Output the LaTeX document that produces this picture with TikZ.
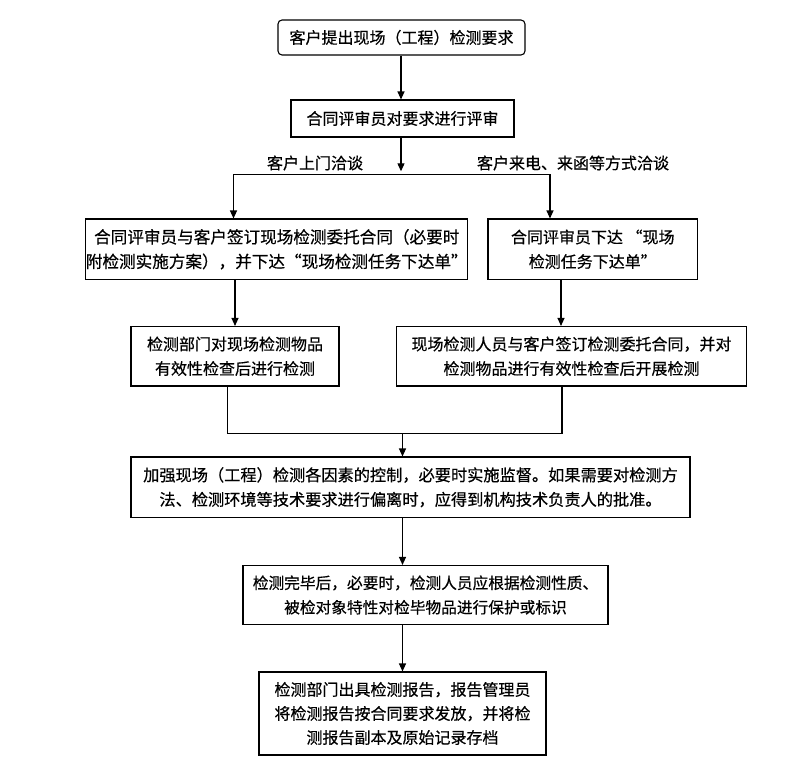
\documentclass[tikz,border=0pt]{standalone}
\usepackage{fontspec}
\setmainfont{Noto Sans CJK SC}[FakeBold=0.5]
\usetikzlibrary{arrows.meta}
\begin{document}
\begin{tikzpicture}[x=1pt,y=-1pt,
  box/.style={draw=black,line width=1.1pt,align=center,inner sep=0pt,
    font=\fontsize{16}{24.5}\selectfont},
  lbl/.style={inner sep=0pt,font=\fontsize{16}{20}\selectfont},
  arr/.style={line width=1.1pt,-{Triangle[length=8pt,width=7pt]}},
  ln/.style={line width=1.1pt}]
\useasboundingbox (0,0) rectangle (806,766);
\node[box,rounded corners=4pt,minimum width=247pt,minimum height=35pt] (b1) at (401.5,37.5) {客户提出现场（工程）检测要求};
\node[box,minimum width=223pt,minimum height=37pt] (b2) at (402.5,118.5) {合同评审员对要求进行评审};
\node[box,minimum width=380.5pt,minimum height=60.5pt,font=\fontsize{16.6}{24.5}\selectfont] (b3) at (276.75,249.25) {合同评审员与客户签订现场检测委托合同（必要时\\附检测实施方案），并下达“现场检测任务下达单”};
\node[box,minimum width=209.5pt,minimum height=60.5pt] (b4) at (592.75,249.25) {合同评审员下达 “现场\\检测任务下达单”};
\node[box,minimum width=208pt,minimum height=59.5pt] (b5) at (235,356.25) {检测部门对现场检测物品\\有效性检查后进行检测};
\node[box,minimum width=350pt,minimum height=59.5pt] (b6) at (571.5,356.25) {现场检测人员与客户签订检测委托合同，并对\\检测物品进行有效性检查后开展检测};
\node[box,minimum width=559pt,minimum height=60.5pt,font=\fontsize{16.2}{24.5}\selectfont] (b7) at (410.5,487.25) {加强现场（工程）检测各因素的控制，必要时实施监督。如果需要对检测方\\法、检测环境等技术要求进行偏离时，应得到机构技术负责人的批准。};
\node[box,minimum width=365pt,minimum height=59pt,font=\fontsize{15.7}{24.5}\selectfont] (b8) at (425.5,595) {检测完毕后，必要时，检测人员应根据检测性质、\\被检对象特性对检毕物品进行保护或标识};
\node[box,minimum width=287pt,minimum height=83pt,font=\fontsize{16}{24}\selectfont] (b9) at (402.5,713.5) {检测部门出具检测报告，报告管理员\\将检测报告按合同要求发放，并将检\\测报告副本及原始记录存档};
\node[lbl] (t1) at (315,163) {客户上门洽谈};
\node[lbl] (t2) at (573,163) {客户来电、来函等方式洽谈};
% connectors
\coordinate (c1) at (401,0);
\draw[arr] (c1 |- b1.south) -- (c1 |- b2.north);
\coordinate (split) at (401,174.3);
\coordinate (L) at (233.5,174.3);
\coordinate (R) at (550,174.3);
\draw[arr,shorten >=3pt] (split |- b2.south) -- (split);
\draw[ln] (L) -- (R);
\draw[arr] (L) -- (L |- b3.north);
\draw[arr] (R) -- (R |- b4.north);
\draw[arr] (b5 |- b3.south) -- (b5.north);
\coordinate (d2) at (561,0);
\draw[arr] (d2 |- b4.south) -- (d2 |- b6.north);
\coordinate (m1) at (227.4,433.3);
\coordinate (m2) at (562,433.3);
\coordinate (m) at (402.5,433.3);
\draw[ln] (m1 |- b5.south) -- (m1) -- (m2) -- (m2 |- b6.south);
\draw[arr] (m) -- (m |- b7.north);
\draw[arr] (m |- b7.south) -- (m |- b8.north);
\draw[arr] (m |- b8.south) -- (b9.north);
\end{tikzpicture}
\end{document}
